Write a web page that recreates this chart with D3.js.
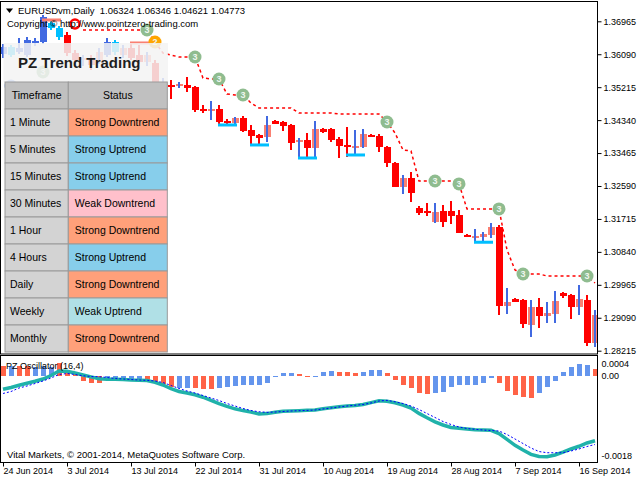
<!DOCTYPE html>
<html>
<head>
<meta charset="utf-8">
<script src="https://cdn.jsdelivr.net/npm/d3@7"></script>
<style>
body { margin: 0; background: #fff; }
svg { display: block; font-family: "Liberation Sans", Arial, sans-serif; }
</style>
</head>
<body>
<div id="chart"></div>
<script>
const width = 640;
const height = 480;

// daily bars, 24 Jun 2014 .. 18 Sep 2014 (index 0..74)
const opens = [1.36096,1.36282,1.36150,1.36070,1.36415,1.36415,1.36920,1.36787,1.36601,1.36123,
  1.35937,1.35990,1.35884,1.36070,1.36415,1.36070,1.36256,1.36070,1.35884,1.35857,
  1.35260,1.35273,1.35254,1.35273,1.35220,1.34636,1.34583,1.34636,1.34304,1.34264,
  1.34397,1.34078,1.33945,1.33892,1.34317,1.34298,1.34211,1.33759,1.33812,1.33600,
  1.34105,1.34105,1.33839,1.33680,1.33626,1.33626,1.33945,1.33919,1.33626,1.33201,
  1.32564,1.32803,1.32014,1.31927,1.31900,1.31642,1.31927,1.31820,1.31294,1.31257,
  1.31244,1.31289,1.31494,1.29403,1.29589,1.29563,1.28899,1.29377,1.29138,1.29191,
  1.29757,1.29695,1.29369,1.29563,1.28429];
const highs = [1.36362,1.36336,1.36521,1.36548,1.36521,1.37132,1.37026,1.36840,1.36681,1.36203,
  1.36070,1.36070,1.36256,1.36521,1.36468,1.36336,1.36362,1.36336,1.36150,1.35937,
  1.35459,1.35406,1.35353,1.35486,1.35247,1.34742,1.34848,1.34742,1.34370,1.34423,
  1.34450,1.34211,1.33972,1.34450,1.34330,1.34317,1.34237,1.33865,1.33998,1.34317,
  1.34131,1.34118,1.33892,1.34158,1.34078,1.34105,1.33972,1.33972,1.33640,1.33228,
  1.32883,1.32970,1.32059,1.32139,1.32139,1.32086,1.32192,1.31953,1.31316,1.31448,
  1.31369,1.31616,1.31555,1.29881,1.29603,1.29589,1.29563,1.29616,1.29518,1.29802,
  1.29762,1.29709,1.29961,1.29695,1.29297];
const lows = [1.35990,1.36017,1.36096,1.36017,1.36309,1.36362,1.36734,1.36468,1.36043,1.35831,
  1.35778,1.35671,1.35831,1.36017,1.36070,1.35990,1.35937,1.35831,1.35778,1.35300,
  1.35140,1.34901,1.35193,1.35087,1.34556,1.34529,1.34344,1.34211,1.34237,1.34237,
  1.34025,1.33680,1.33680,1.33759,1.34224,1.34051,1.33547,1.33308,1.33334,1.33361,
  1.33998,1.33759,1.33334,1.33361,1.33414,1.33600,1.33879,1.33494,1.33095,1.32551,
  1.32378,1.32174,1.31820,1.31794,1.31616,1.31510,1.31581,1.31334,1.31263,1.31111,
  1.31085,1.31201,1.29164,1.29191,1.29510,1.28819,1.28588,1.28819,1.28960,1.28960,
  1.29616,1.29058,1.29164,1.28341,1.28322];
const closes = [1.36282,1.36070,1.36256,1.36468,1.36442,1.37079,1.36787,1.36548,1.36123,1.35937,
  1.35990,1.35804,1.36150,1.36415,1.36150,1.36256,1.35990,1.35884,1.36070,1.35353,
  1.35273,1.35260,1.35300,1.35201,1.34609,1.34583,1.34636,1.34290,1.34290,1.34397,
  1.34051,1.33919,1.33865,1.34211,1.34237,1.34184,1.33741,1.33812,1.33600,1.34105,
  1.34025,1.33812,1.33653,1.33626,1.33653,1.33972,1.33892,1.33613,1.33201,1.32572,
  1.32803,1.32413,1.31881,1.31881,1.31642,1.31927,1.31802,1.31350,1.31284,1.31268,
  1.31316,1.31510,1.29403,1.29518,1.29518,1.28925,1.29377,1.29138,1.29226,1.29536,
  1.29669,1.29369,1.29589,1.28429,1.29164];
// candle colouring by trend: R strong down, S weak down, B strong up, C weak up
const trendState = "BCBBBBCCRRSRSBCSRRSRSRSRRRSRRSRRRSRRRSRSRRRRSSRRRRSRRRSRRRRSSSRSRRSRSSRRSRS";

// trailing stop (red dashed)
const trail = [null,null,null,null,null,null,null,null,null,null,
  1.36734,1.36734,1.36734,1.36734,1.36734,1.36734,1.36734,1.36734,1.36734,1.36415,
  1.36123,1.36070,1.36017,1.36017,1.36017,1.35459,1.35433,1.35433,1.35034,1.35008,
  1.35008,1.34795,1.34662,1.34662,1.34662,1.34662,1.34662,1.34529,1.34529,1.34529,
  1.34529,1.34529,1.34503,1.34503,1.34503,1.34503,1.34503,1.34503,1.34290,1.33998,
  1.33547,1.33520,1.32723,1.32723,1.32723,1.32723,1.32723,1.32644,1.31980,1.31980,
  1.31980,1.31980,1.31980,1.30891,1.30360,1.30253,1.30253,1.30253,1.30200,1.30200,
  1.30200,1.30200,1.30200,1.30200,1.30014];

// [bar index, price, label, kind]
const signals = [[1,1.35247,"1","blue"],[5,1.35618,"3","green"],[9,1.36893,"","red"],[19,1.36415,"2","orange"],
  [18,1.36734,"3","green"],[24,1.36017,"3","green"],[27,1.35433,"3","green"],[30,1.35008,"3","green"],
  [48,1.34290,"3","green"],[54,1.32723,"3","green"],[57,1.32644,"3","green"],[62,1.31980,"3","green"],
  [65,1.30253,"3","green"],[73,1.30200,"3","green"]];
// [bar index, price, kind] support / resistance dashes
const levelMarks = [[6,1.37000,"res"],[17,1.36389,"res"],[28,1.34211,"sup"],[32,1.33680,"sup"],
  [38,1.33334,"sup"],[44,1.33414,"sup"],[60,1.31096,"sup"]];

// PZ Oscillator (16,4)
const histValues = [0.00032,0.00032,0.00032,0.00032,0.00030,0.00032,0.00030,0.00042,0.00018,0.00005,
  -0.00011,-0.00016,-0.00017,-0.00010,-0.00010,-0.00010,-0.00009,-0.00009,-0.00010,-0.000135,
  -0.00019,-0.00025,-0.00027,-0.00027,-0.00028,-0.00031,-0.00031,-0.00027,-0.00025,-0.00023,
  -0.00022,-0.00021,-0.00020,-0.00017,-0.00003,0.00009,0.00010,0.00005,-0.00002,-0.00002,
  0.00011,0.00016,0.00012,0.00012,0.00010,0.00012,0.00019,0.00019,0.00009,-0.00010,
  -0.00021,-0.00027,-0.00038,-0.00042,-0.00040,-0.00036,-0.00026,-0.00021,-0.00020,-0.00020,
  -0.00016,-0.00005,-0.00016,-0.00034,-0.00044,-0.00049,-0.00050,-0.00038,-0.00026,-0.00011,
  0.00011,0.00030,0.00039,0.00036,0.00021];
const histDir = "dudduuudddddduuuuudddduuddduuuuuuuuuudduuuddduuudddddduuuuuuuuddddduuuuuuudd";
const oscMain = [-0.000306,-0.000266,-0.000216,-0.000171,-0.000126,-0.000074,0.000007,0.000157,0.00015,0.00009,
  0.000023,-0.000027,-0.00007,-0.000081,-0.000081,-0.000086,-0.000097,-0.000101,-0.000108,-0.000149,
  -0.000209,-0.000293,-0.000355,-0.000389,-0.00043,-0.000484,-0.000556,-0.000628,-0.000689,-0.000745,
  -0.000785,-0.00082,-0.00086,-0.000853,-0.000824,-0.000799,-0.000794,-0.000788,-0.000779,-0.000772,
  -0.000745,-0.000722,-0.0007,-0.000682,-0.000668,-0.000646,-0.000605,-0.000565,-0.000574,-0.00061,
  -0.000659,-0.000727,-0.000848,-0.000947,-0.001037,-0.001109,-0.001166,-0.001181,-0.001199,-0.001215,
  -0.001222,-0.001229,-0.001303,-0.001433,-0.001566,-0.001672,-0.001769,-0.001818,-0.001823,-0.001784,
  -0.001719,-0.001649,-0.001588,-0.001514,-0.001463];
const oscSignal = [-0.0004,-0.000356,-0.000277,-0.000232,-0.000176,-0.000119,-0.000052,0.00004,0.000073,0.00004,
  -0.000002,-0.000018,-0.000023,-0.00004,-0.000063,-0.000074,-0.000086,-0.000097,-0.000104,-0.000119,
  -0.000153,-0.00022,-0.000288,-0.000344,-0.000389,-0.000446,-0.000502,-0.000558,-0.000626,-0.000682,
  -0.000738,-0.000783,-0.000812,-0.000824,-0.000817,-0.000806,-0.000794,-0.000788,-0.000781,-0.000772,
  -0.000749,-0.000727,-0.000704,-0.000682,-0.000664,-0.000648,-0.000614,-0.000569,-0.000554,-0.000587,
  -0.000626,-0.000682,-0.000761,-0.000851,-0.00094,-0.001031,-0.001098,-0.001154,-0.001188,-0.001206,
  -0.001222,-0.001233,-0.001244,-0.001323,-0.001424,-0.001526,-0.001627,-0.001706,-0.001733,-0.001733,
  -0.001733,-0.001694,-0.001649,-0.001593,-0.001548];

const priceTicks = [1.36965,1.36090,1.35215,1.34340,1.33465,1.32590,1.31715,1.30840,1.29965,1.29090,1.28215];
const oscTicks = [0.0004, 0, -0.0018];
const dateTickIdx = [0,8,16,24,32,40,48,56,64,72];
const dateLabels = ["24 Jun 2014","3 Jul 2014","13 Jul 2014","22 Jul 2014","31 Jul 2014",
  "10 Aug 2014","19 Aug 2014","28 Aug 2014","7 Sep 2014","16 Sep 2014"];

const timeframes = ["1 Minute","5 Minutes","15 Minutes","30 Minutes","1 Hour","4 Hours","Daily","Weekly","Monthly"];
const statuses = ["Strong Downtrend","Strong Uptrend","Strong Uptrend","Weak Downtrend","Strong Downtrend",
  "Strong Uptrend","Strong Downtrend","Weak Uptrend","Strong Downtrend"];

const bodyColor = { R: "#ff0000", S: "#fa8072", B: "#4169e1", C: "#00bfff" };
const wickColor = { R: "#ff0000", S: "#4169e1", B: "#4169e1", C: "#00bfff" };
const statusColor = { "Strong Downtrend": "#ffa07a", "Strong Uptrend": "#87ceeb",
  "Weak Downtrend": "#ffc0cb", "Weak Uptrend": "#b0e0e6" };
const signalColor = { green: "#8fbc8f", orange: "#ffa500", blue: "#6495ed", red: "#ff0000" };

const svg = d3.select("#chart").append("svg")
  .attr("width", width)
  .attr("height", height);

const x = d3.scaleLinear().domain([0, 74]).range([3, 595]);
const yP = d3.scaleLinear().domain([1.28215, 1.36965]).range([350.7, 21.3]);
const yO = d3.scaleLinear().domain([-0.0018, 0, 0.0004]).range([455.7, 375.7, 363.7]);

const defs = svg.append("defs");
defs.append("clipPath").attr("id", "clipMain").append("rect")
  .attr("x", 1).attr("y", 2).attr("width", 596).attr("height", 352);
defs.append("clipPath").attr("id", "clipOsc").append("rect")
  .attr("x", 1).attr("y", 356).attr("width", 596).attr("height", 106);

// ---- main pane ----
const main = svg.append("g").attr("clip-path", "url(#clipMain)");

const bars = opens.map((o, i) => ({ i: i, o: o, h: highs[i], l: lows[i], c: closes[i], s: trendState[i] }));

const barG = main.selectAll("g.bar")
  .data(bars)
  .join("g")
  .attr("class", "bar")
  .attr("shape-rendering", "crispEdges");

barG.append("rect")
  .attr("x", d => x(d.i) - 3)
  .attr("y", d => yP(Math.max(d.o, d.c)))
  .attr("width", 7)
  .attr("height", d => Math.max(2, Math.abs(yP(d.o) - yP(d.c))))
  .attr("fill", d => bodyColor[d.s]);

barG.append("rect")
  .attr("x", d => x(d.i) - 1)
  .attr("y", d => yP(d.h))
  .attr("width", 2)
  .attr("height", d => yP(d.l) - yP(d.h))
  .attr("fill", d => wickColor[d.s]);

main.selectAll("rect.level")
  .data(levelMarks)
  .join("rect")
  .attr("class", "level")
  .attr("x", d => x(d[0]) - 9)
  .attr("y", d => yP(d[1]) - 1.5)
  .attr("width", 19)
  .attr("height", 3)
  .attr("fill", d => d[2] === "sup" ? "#00bfff" : "#fa8072");

const trailLine = d3.line()
  .defined(d => d != null)
  .x((d, i) => x(i))
  .y(d => yP(d));

main.append("path")
  .datum(trail)
  .attr("d", trailLine)
  .attr("fill", "none")
  .attr("stroke", "#ff0000")
  .attr("stroke-width", 1.5)
  .attr("stroke-dasharray", "3,3");

const sigG = main.selectAll("g.sig")
  .data(signals)
  .join("g")
  .attr("class", "sig")
  .attr("transform", d => `translate(${x(d[0])},${yP(d[1])})`);

sigG.append("circle")
  .attr("r", d => d[3] === "red" ? 4.5 : 6.5)
  .attr("fill", d => d[3] === "red" ? "#fff" : signalColor[d[3]])
  .attr("stroke", d => d[3] === "red" ? "#ff0000" : "none")
  .attr("stroke-width", 2.5);

sigG.append("text")
  .attr("text-anchor", "middle")
  .attr("dy", "0.35em")
  .attr("font-size", "9px")
  .attr("font-weight", "bold")
  .attr("fill", "#eef6ee")
  .text(d => d[2]);

// title box over the chart
svg.append("rect")
  .attr("x", 3.5).attr("y", 43)
  .attr("width", 164.5).attr("height", 39)
  .attr("fill", "#f3f3f3")
  .attr("opacity", 0.85);

svg.append("text")
  .attr("x", 18).attr("y", 67.5)
  .attr("font-size", "15px")
  .attr("font-weight", "bold")
  .attr("fill", "#1e1e1e")
  .text("PZ Trend Trading");

// trend table
const tableX = [5, 68.3, 167.3];
const rowH = 27;
const tableTop = 82;
const rows = [["Timeframe", "Status"]].concat(timeframes.map((t, i) => [t, statuses[i]]));

const rowG = svg.selectAll("g.row")
  .data(rows)
  .join("g")
  .attr("class", "row")
  .attr("transform", (d, i) => `translate(0,${tableTop + i * rowH})`);

rowG.append("rect")
  .attr("x", tableX[0]).attr("y", 0)
  .attr("width", tableX[1] - tableX[0]).attr("height", rowH)
  .attr("fill", (d, i) => i === 0 ? "#c0c0c0" : "#d3d3d3")
  .attr("stroke", "#999").attr("stroke-width", 1);

rowG.append("rect")
  .attr("x", tableX[1]).attr("y", 0)
  .attr("width", tableX[2] - tableX[1]).attr("height", rowH)
  .attr("fill", (d, i) => i === 0 ? "#c0c0c0" : statusColor[d[1]])
  .attr("stroke", "#999").attr("stroke-width", 1);

rowG.append("text")
  .attr("x", (d, i) => i === 0 ? (tableX[0] + tableX[1]) / 2 : tableX[0] + 5)
  .attr("y", rowH / 2)
  .attr("dy", "0.36em")
  .attr("text-anchor", (d, i) => i === 0 ? "middle" : "start")
  .attr("font-size", "10.5px")
  .text(d => d[0]);

rowG.append("text")
  .attr("x", (d, i) => i === 0 ? (tableX[1] + tableX[2]) / 2 : tableX[1] + 6.5)
  .attr("y", rowH / 2)
  .attr("dy", "0.36em")
  .attr("text-anchor", (d, i) => i === 0 ? "middle" : "start")
  .attr("font-size", "10.5px")
  .text(d => d[1]);

// header texts
svg.append("path")
  .attr("d", "M6,8.5L13,8.5L9.5,13Z")
  .attr("fill", "#000");
svg.append("text")
  .attr("x", 18).attr("y", 14)
  .attr("font-size", "9.5px")
  .style("white-space", "pre")
  .text("EURUSDvm,Daily  1.06324 1.06346 1.04621 1.04773");
svg.append("text")
  .attr("x", 7).attr("y", 27)
  .attr("font-size", "9.5px")
  .text("Copyright © http://www.pointzero-trading.com");

// ---- oscillator pane ----
const osc = svg.append("g").attr("clip-path", "url(#clipOsc)");

osc.selectAll("rect.hist")
  .data(histValues)
  .join("rect")
  .attr("class", "hist")
  .attr("shape-rendering", "crispEdges")
  .attr("x", (d, i) => x(i) - 2)
  .attr("y", d => d > 0 ? yO(d) : yO(0))
  .attr("width", 5)
  .attr("height", d => Math.abs(yO(d) - yO(0)))
  .attr("fill", (d, i) => histDir[i] === "u" ? "#6495ed" : "#ff6347");

const oscLine = d3.line()
  .x((d, i) => x(i))
  .y(d => yO(d));

osc.append("path")
  .datum(oscMain)
  .attr("d", oscLine)
  .attr("fill", "none")
  .attr("stroke", "#20b2aa")
  .attr("stroke-width", 3.5);

osc.append("path")
  .datum(oscSignal)
  .attr("d", oscLine)
  .attr("fill", "none")
  .attr("stroke", "#0000ff")
  .attr("stroke-width", 1)
  .attr("stroke-dasharray", "2,2");

svg.append("text")
  .attr("x", 6).attr("y", 369)
  .attr("font-size", "9px")
  .text("PZ Oscillator (16,4)");

svg.append("text")
  .attr("x", 7).attr("y", 458)
  .attr("font-size", "9.5px")
  .text("Vital Markets, © 2001-2014, MetaQuotes Software Corp.");

// ---- frames and axes ----
svg.append("rect")
  .attr("x", 0.5).attr("y", 1.5)
  .attr("width", 597).attr("height", 352.5)
  .attr("fill", "none").attr("stroke", "#000");
svg.append("rect")
  .attr("x", 0.5).attr("y", 355.5)
  .attr("width", 597).attr("height", 107)
  .attr("fill", "none").attr("stroke", "#000");

const priceAxis = svg.append("g")
  .attr("transform", "translate(597.5,0)")
  .call(d3.axisRight(yP).tickValues(priceTicks).tickSize(4).tickPadding(2)
    .tickFormat(d => d.toFixed(5)));

const oscAxis = svg.append("g")
  .attr("transform", "translate(597.5,0)")
  .call(d3.axisRight(yO).tickValues(oscTicks).tickSize(0).tickPadding(4)
    .tickFormat(d => d === 0 ? "0.00" : d.toFixed(4)));

const dateAxis = svg.append("g")
  .attr("transform", "translate(0,462.5)")
  .call(d3.axisBottom(x).tickValues(dateTickIdx).tickSize(4).tickPadding(1)
    .tickFormat((d, i) => dateLabels[i]));
dateAxis.selectAll(".tick text")
  .attr("text-anchor", "start")
  .attr("x", 0);

[priceAxis, oscAxis, dateAxis].forEach(a => {
  a.select(".domain").remove();
  a.selectAll(".tick line").attr("stroke", "#000");
  a.selectAll(".tick text")
    .attr("fill", "#000")
    .attr("font-size", "9px")
    .attr("font-family", "Liberation Sans, Arial, sans-serif");
});
</script>
</body>
</html>
